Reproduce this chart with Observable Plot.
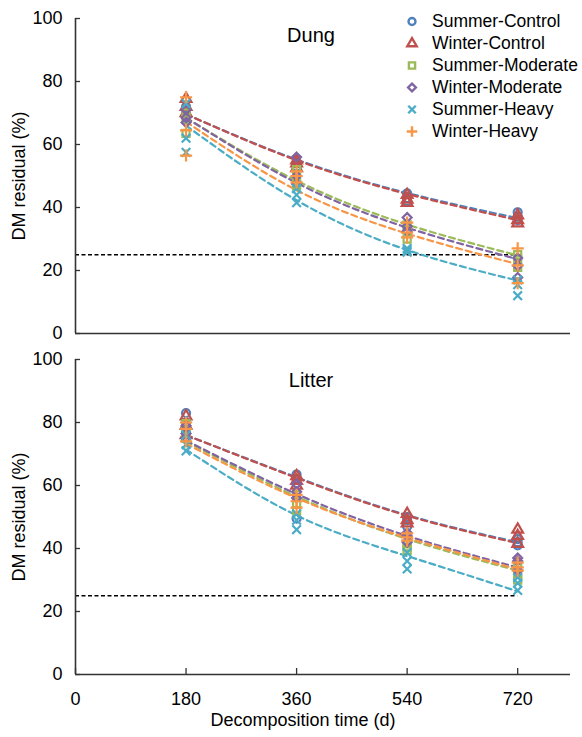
<!DOCTYPE html>
<html><head><meta charset="utf-8">
<script src="https://cdn.jsdelivr.net/npm/d3@7"></script>
<script src="https://cdn.jsdelivr.net/npm/@observablehq/plot@0.6"></script>
<style>
body{margin:0;background:#fff;}
#wrap{position:relative;width:582px;height:737px;overflow:hidden;}
#wrap svg{display:block;}
#legend{position:absolute;left:404px;top:11px;}
#legend .lg-swatches{font-family:"Liberation Sans",Arial,sans-serif !important;font-size:17.5px !important;margin:0 !important;}
#legend .lg-swatch > svg{margin-right:12px !important;}
</style></head><body><div id="wrap"><div id="legend"></div></div>
<script>
const series = ["Summer-Control","Winter-Control","Summer-Moderate","Winter-Moderate","Summer-Heavy","Winter-Heavy"];
const colors = ["#4F81BD","#C0504D","#9BBB59","#8064A2","#4BACC6","#F79646"];
const symbols = ["circle","triangle","square","diamond2","times","plus"];
const days = [180, 360, 540, 720];
const xTicks = [0, 180, 360, 540, 720];
const yTicks = [0, 20, 40, 60, 80, 100];
const threshold = 25;

// Dung replicates (per day: 180, 360, 540, 720)
const dungSummerControl  = [[72,70,69],[54,53,52],[44.5,43,42],[38.5,37,36]];
const dungWinterControl  = [[74.5,72,70],[55,54,52.5],[44,42.5,41.5],[37.5,36,35]];
const dungSummerModerate = [[70,68,63.5],[52,48.5,47],[34.5,33,30],[25,23.5,21]];
const dungWinterModerate = [[71,68.5,67],[56,50,47.5],[36.8,34,32.5],[24,21.5,17.8]];
const dungSummerHeavy    = [[73,62,57.5],[46,44,41.5],[27,26.3,25.8],[17,15.5,12]];
const dungWinterHeavy    = [[75,64.5,56.5],[51.5,50,48],[35.2,32,30.5],[27,21.6,16]];
// Dung fitted curves
const dungFitSummerControl  = [69.6, 55.2, 44.6, 36.6];
const dungFitWinterControl  = [69.6, 55.0, 44.3, 36.0];
const dungFitSummerModerate = [68.5, 48.5, 34.6, 24.8];
const dungFitWinterModerate = [68.5, 47.8, 33.6, 23.6];
const dungFitSummerHeavy    = [66.0, 42.3, 26.5, 16.8];
const dungFitWinterHeavy    = [67.2, 45.5, 31.7, 22.0];

// Litter replicates
const litterSummerControl  = [[83,80,77],[63.5,62,49.5],[50,49,47],[43,42,41]];
const litterWinterControl  = [[82,79,76],[63,61.5,60],[51,49,48],[46,44,41.5]];
const litterSummerModerate = [[79.6,77,75],[57,54,52],[41.5,40.5,39.4],[34,32,30]];
const litterWinterModerate = [[79,76.5,75],[60.5,58,56],[45,44,42],[37,36,33]];
const litterSummerHeavy    = [[76,73,71],[51,49,46],[38.7,36,33.5],[30.8,29,26.7]];
const litterWinterHeavy    = [[80,78,74],[57,55,53],[44.8,43.5,42.5],[35.5,34,33]];
// Litter fitted curves
const litterFitSummerControl  = [76.0, 62.6, 50.6, 42.0];
const litterFitWinterControl  = [76.0, 62.4, 50.4, 41.7];
const litterFitSummerModerate = [74.0, 56.5, 43.0, 33.0];
const litterFitWinterModerate = [74.3, 57.3, 44.0, 34.0];
const litterFitSummerHeavy    = [71.4, 50.5, 37.6, 26.4];
const litterFitWinterHeavy    = [73.3, 56.0, 43.4, 33.4];

const dungReps = [dungSummerControl, dungWinterControl, dungSummerModerate, dungWinterModerate, dungSummerHeavy, dungWinterHeavy];
const dungFits = [dungFitSummerControl, dungFitWinterControl, dungFitSummerModerate, dungFitWinterModerate, dungFitSummerHeavy, dungFitWinterHeavy];
const litterReps = [litterSummerControl, litterWinterControl, litterSummerModerate, litterWinterModerate, litterSummerHeavy, litterWinterHeavy];
const litterFits = [litterFitSummerControl, litterFitWinterControl, litterFitSummerModerate, litterFitWinterModerate, litterFitSummerHeavy, litterFitWinterHeavy];

function pointRows(reps) {
  const rows = [];
  reps.forEach((r, i) => r.forEach((vals, j) => vals.forEach(v => rows.push({series: series[i], day: days[j], value: v}))));
  return rows;
}
function fitRows(fits) {
  const rows = [];
  fits.forEach((f, i) => f.forEach((v, j) => rows.push({series: series[i], day: days[j], value: v})));
  return rows;
}

const FONT = '"Liberation Sans", Arial, sans-serif';
const AXIS = "#333";

function panel({reps, fits, title, titleDy, height, marginTop, marginBottom, bottomAxis}) {
  const marks = [
    Plot.ruleY([threshold], {x1: xTicks[0], x2: days[days.length - 1], stroke: "#000", strokeWidth: 1.3, strokeDasharray: "4,2.5"}),
    Plot.line(fitRows(fits), {x: "day", y: "value", z: "series", stroke: "series", strokeWidth: 2.2, strokeDasharray: "6,4", curve: "natural"}),
    Plot.dot(pointRows(reps), {x: "day", y: "value", symbol: "series", stroke: "series", fill: "none", r: 4, strokeWidth: 2.2}),
    Plot.ruleX([xTicks[0]], {stroke: AXIS, strokeWidth: 1.6}),
    Plot.ruleY([yTicks[0]], {stroke: AXIS, strokeWidth: 1.6}),
    Plot.axisY({ticks: yTicks, tickSize: 5, dx: 5, tickFormat: () => "", label: null, stroke: AXIS, strokeWidth: 1.3}),
    Plot.axisY({ticks: yTicks, tickSize: 0, tickPadding: 13, label: null, fontSize: 18, fill: "#000"}),
    Plot.text(["DM residual (%)"], {frameAnchor: "left", rotate: -90, dx: -56, textAnchor: "middle", lineAnchor: "middle", fontSize: 18, fill: "#000"}),
    Plot.text([title], {frameAnchor: "top", dx: -12, dy: titleDy, textAnchor: "middle", lineAnchor: "middle", fontSize: 20, fill: "#000"})
  ];
  if (bottomAxis) {
    marks.push(
      Plot.axisX({ticks: xTicks, tickSize: 6, dy: -6, tickFormat: () => "", label: null, stroke: AXIS, strokeWidth: 1.3}),
      Plot.axisX({ticks: xTicks, tickSize: 0, tickPadding: 18, label: null, fontSize: 18, fill: "#000"}),
      Plot.text(["Decomposition time (d)"], {frameAnchor: "bottom", dx: -20, dy: 46, textAnchor: "middle", lineAnchor: "middle", fontSize: 18, fill: "#000"})
    );
  }
  return Plot.plot({
    width: 582, height, marginLeft: 75, marginRight: 12, marginTop, marginBottom,
    style: {fontFamily: FONT, fontSize: "18px", background: "#fff", overflow: "visible"},
    x: {domain: [0, 806], axis: null},
    y: {domain: [0, 100], axis: null},
    color: {domain: series, range: colors},
    symbol: {domain: series, range: symbols},
    marks
  });
}

const topPanel = panel({reps: dungReps, fits: dungFits, title: "Dung", titleDy: 17, height: 340, marginTop: 18, marginBottom: 7, bottomAxis: false});
const bottomPanel = panel({reps: litterReps, fits: litterFits, title: "Litter", titleDy: 21, height: 397, marginTop: 19, marginBottom: 63, bottomAxis: true});
const wrap = document.getElementById("wrap");
wrap.insertBefore(bottomPanel, wrap.firstChild);
wrap.insertBefore(topPanel, wrap.firstChild);

const leg = topPanel.legend("symbol", {columns: 1, swatchWidth: 16, swatchHeight: 21, r: 3.5, strokeWidth: 2.4, className: "lg"});
if (leg) document.getElementById("legend").appendChild(leg);
</script></body></html>
